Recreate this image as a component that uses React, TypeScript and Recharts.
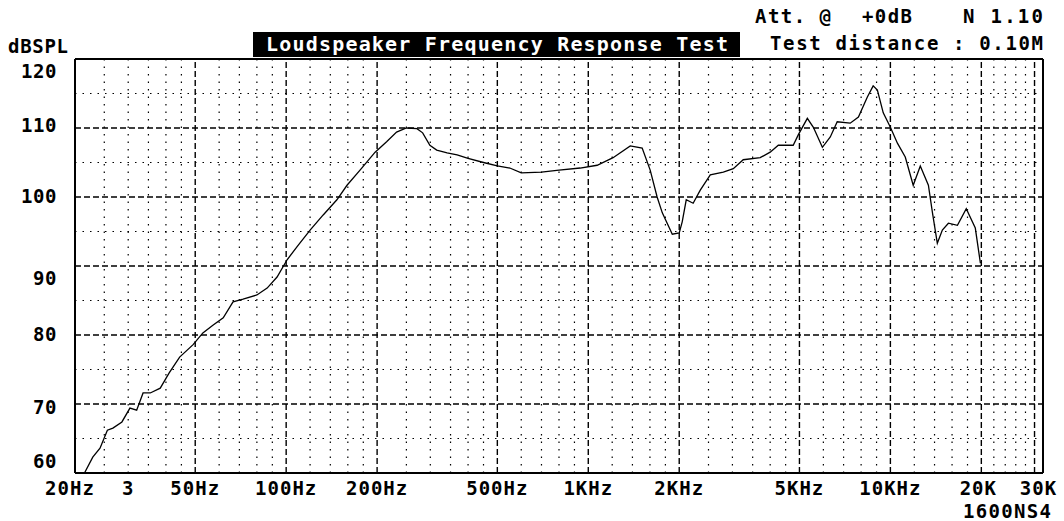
import React from 'react';
import { LineChart, Line, XAxis, YAxis, ReferenceLine } from 'recharts';

// Frequency response samples (Hz) and sound pressure level (dB SPL)
const freqHz = [
  21.5, 22.9, 24.2, 25.6, 26.7, 28.6, 30.4, 32.0, 33.6, 35.5, 38.3, 41.0, 44.4, 49.2,
  53.0, 57.2, 61.9, 66.7, 72.0, 80.0, 86.5, 93.3, 100.7, 108.7, 120, 132.6, 147.2, 159,
  175.6, 197, 215, 232, 250, 271, 283, 299, 315, 341, 368, 400, 450, 500, 550, 600, 700,
  800, 940, 1070, 1208, 1377, 1508, 1603, 1690, 1758, 1897, 2000, 2046, 2110, 2224, 2348,
  2534, 2799, 3020, 3258, 3708, 4000, 4256, 4768, 4955, 5310, 5560, 5955, 6325, 6668,
  7360, 7838, 8390, 8770, 9056, 9470, 10000, 10550, 11200, 11900, 12560, 13360, 13770,
  14300, 14860, 15560, 16670, 17830, 19100, 19860,
];
const splDb = [
  60.0, 62.3, 63.6, 66.2, 66.5, 67.4, 69.4, 69.1, 71.6, 71.6, 72.3, 74.5, 76.8, 78.6,
  80.3, 81.4, 82.5, 84.8, 85.2, 85.8, 86.8, 88.4, 90.9, 92.8, 95.2, 97.4, 99.6, 101.7,
  103.9, 106.5, 108.0, 109.4, 110.0, 109.9, 109.3, 107.5, 106.8, 106.4, 106.1, 105.6,
  105.0, 104.5, 104.2, 103.5, 103.6, 103.9, 104.2, 104.6, 105.7, 107.4, 107.1, 103.9,
  100.0, 97.7, 94.6, 94.8, 96.4, 99.6, 99.1, 101.0, 103.2, 103.6, 104.1, 105.4, 105.7,
  106.5, 107.5, 107.5, 109.0, 111.4, 110.1, 107.2, 108.7, 110.9, 110.7, 111.6, 114.5,
  116.1, 115.5, 112.2, 110.1, 107.8, 105.8, 101.7, 104.5, 101.7, 97.8, 93.3, 95.2, 96.2,
  95.9, 98.3, 95.5, 90.4,
];

const xTicks = [20, 30, 50, 100, 200, 500, 1000, 2000, 5000, 10000, 20000, 30000];
const xTickLabels = ['20Hz', '3', '50Hz', '100Hz', '200Hz', '500Hz', '1KHz', '2KHz', '5KHz', '10KHz', '20K', '30K'];
const yTicks = [60, 70, 80, 90, 100, 110, 120];
const yMajorGrid = [70, 80, 90, 100, 110];
const yMinorGrid = [65, 75, 85, 95, 105, 115];
const xMajorGrid = [50, 100, 200, 500, 1000, 2000, 5000, 10000, 20000, 30000];
const xMinorGrid = [
  25, 30, 35, 40, 45, 60, 70, 80, 90, 120, 140, 160, 180, 250, 300, 350, 400, 450,
  600, 700, 800, 900, 1200, 1400, 1600, 1800, 2500, 3000, 3500, 4000, 4500,
  6000, 7000, 8000, 9000, 12000, 14000, 16000, 18000, 22000, 24000, 26000, 28000,
];

const data = freqHz.map((f, i) => ({ f, spl: splDb[i] }));

const FONT = '"DejaVu Sans Mono", "Liberation Mono", monospace';

const yLabelShift: Record<number, number> = { 120: 13, 110: -2, 90: 13, 70: 4, 60: -11 };
const xLabelShift: Record<number, number> = { 20: -5, 20000: -3, 30000: 4 };

const XTick = (props: any) => {
  const { x, y, payload } = props;
  const idx = xTicks.indexOf(payload.value);
  const label = idx >= 0 ? xTickLabels[idx] : String(payload.value);
  return (
    <text
      x={x + (xLabelShift[payload.value] || 0)}
      y={y + 22}
      textAnchor="middle"
      fontFamily={FONT}
      fontWeight="bold"
      fontSize={19}
      letterSpacing={1.0}
      fill="#000"
    >
      {label}
    </text>
  );
};

const YTick = (props: any) => {
  const { x, y, payload } = props;
  return (
    <text
      x={x}
      y={y + 6 + (yLabelShift[payload.value] || 0)}
      textAnchor="end"
      fontFamily={FONT}
      fontWeight="bold"
      fontSize={19}
      letterSpacing={0.6}
      fill="#000"
    >
      {payload.value}
    </text>
  );
};

export default function App() {
  return (
    <div style={{ position: 'absolute', left: 0, top: 0, width: 1064, height: 521, background: '#fff' }}>
      <LineChart
        width={1064}
        height={521}
        data={data}
        margin={{ top: 59, right: 21, bottom: 18, left: 15 }}
      >
        <XAxis
          dataKey="f"
          type="number"
          scale="log"
          domain={[20, 32000]}
          ticks={xTicks}
          interval={0}
          allowDataOverflow
          height={30}
          tickSize={0}
          tickMargin={0}
          axisLine={{ stroke: '#000', strokeWidth: 2 }}
          tick={(p: any) => <XTick {...p} />}
        />
        <YAxis
          type="number"
          domain={[60, 120]}
          ticks={yTicks}
          interval={0}
          allowDataOverflow
          width={60}
          tickSize={0}
          tickMargin={18}
          axisLine={{ stroke: '#000', strokeWidth: 2 }}
          tick={(p: any) => <YTick {...p} />}
        />
        {yMinorGrid.map((v) => (
          <ReferenceLine key={'ym' + v} y={v} stroke="#000" strokeWidth={1.2} strokeDasharray="1.5 6" />
        ))}
        {xMinorGrid.map((v) => (
          <ReferenceLine key={'xm' + v} x={v} stroke="#000" strokeWidth={1.2} strokeDasharray="1.5 6" />
        ))}
        {yMajorGrid.map((v) => (
          <ReferenceLine key={'yM' + v} y={v} stroke="#000" strokeWidth={1.4} strokeDasharray="6 3" />
        ))}
        {xMajorGrid.map((v) => (
          <ReferenceLine key={'xM' + v} x={v} stroke="#000" strokeWidth={1.4} strokeDasharray="6 3" />
        ))}
        <ReferenceLine y={120} stroke="#000" strokeWidth={2} />
        <ReferenceLine x={32000} stroke="#000" strokeWidth={2} />
        <Line
          type="linear"
          dataKey="spl"
          stroke="#000"
          strokeWidth={1.3}
          dot={false}
          isAnimationActive={false}
        />
      </LineChart>
      <svg
        width={1064}
        height={521}
        style={{ position: 'absolute', left: 0, top: 0, pointerEvents: 'none' }}
      >
        <g fontFamily={FONT} fontWeight="bold" fontSize={19} fill="#000">
          <text x={8} y={53} textLength={60} lengthAdjust="spacing">dBSPL</text>
          <rect x={253} y={32} width={487} height={25} fill="#000" />
          <text x={266} y={51} fill="#fff" fontSize={20} textLength={462} lengthAdjust="spacing">
            Loudspeaker Frequency Response Test
          </text>
          <text x={755} y={23} textLength={76} lengthAdjust="spacing">Att. @</text>
          <text x={862} y={23} textLength={50} lengthAdjust="spacing">+0dB</text>
          <text x={963} y={23} textLength={80} lengthAdjust="spacing">N 1.10</text>
          <text x={770} y={50} textLength={273} lengthAdjust="spacing">Test distance : 0.10M</text>
          <text x={963} y={518} textLength={88} lengthAdjust="spacing">1600NS4</text>
        </g>
      </svg>
    </div>
  );
}
